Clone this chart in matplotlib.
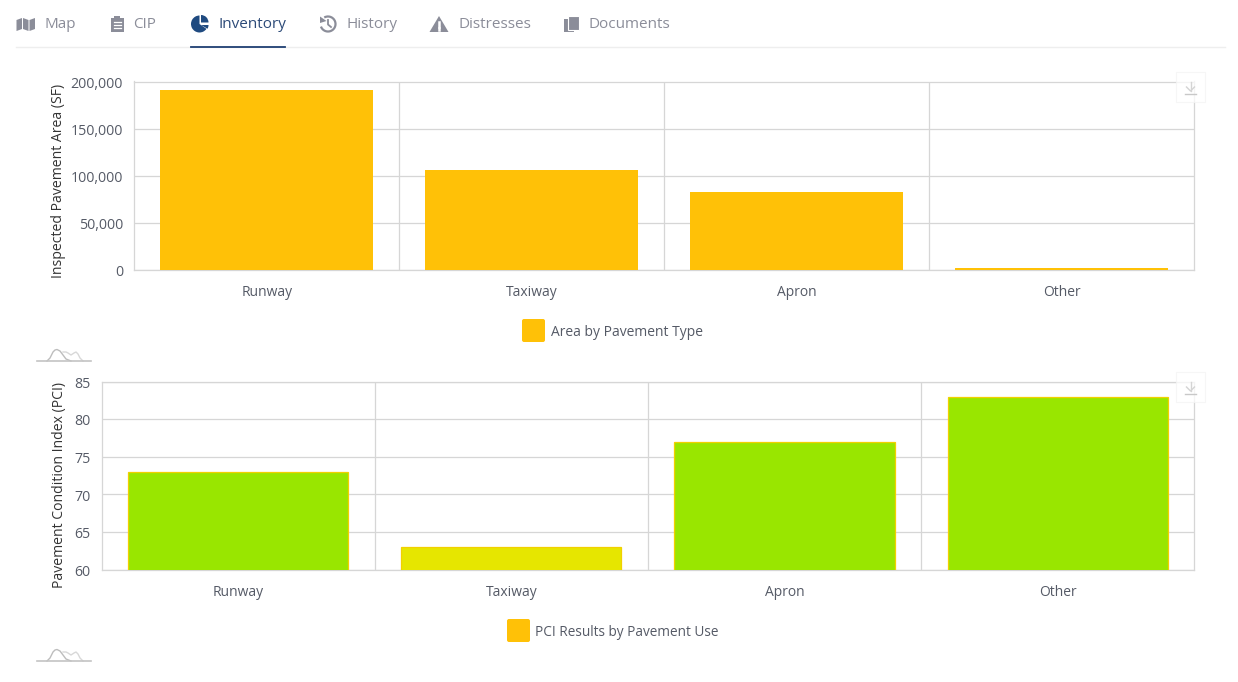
import matplotlib
matplotlib.use('Agg')
from matplotlib import pyplot as plt
from matplotlib.patches import FancyBboxPatch, Polygon, Rectangle, Wedge, Arc
from matplotlib.transforms import ScaledTranslation

plt.rcParams['font.family'] = ['Open Sans', 'DejaVu Sans']

W, H = 1238, 682

# data
area_types = ['Runway', 'Taxiway', 'Apron', 'Other']
area_values = [191000, 106000, 82000, 2000]
area_ticks = [0, 50000, 100000, 150000, 200000]

pci_types = ['Runway', 'Taxiway', 'Apron', 'Other']
pci_values = [73, 63, 77, 83]
pci_colors = ['#99E600', '#E6E600', '#99E600', '#99E600']
pci_ticks = [60, 65, 70, 75, 80, 85]

tabs = ['Map', 'CIP', 'Inventory', 'History', 'Distresses', 'Documents']
tab_x = [44, 133, 219, 346, 458, 589]

GRID = '#d6d6d6'
TEXT = '#555a66'
AMBER = '#FFC107'


def px_axes(fig, left, top, right, bottom):
    return fig.add_axes([left / W, 1 - bottom / H, (right - left) / W, (bottom - top) / H])


def bar_chart(fig, box, cats, vals, colors, ticks, ylab, ylab_y, edge=None):
    ax = px_axes(fig, *box)
    xs = range(len(cats))
    ax.bar(xs, vals, width=0.806, color=colors, edgecolor=edge, linewidth=0.9 if edge else 0, zorder=3)
    ax.set_xlim(-0.5, len(cats) - 0.5)
    ax.set_ylim(ticks[0], ticks[-1])
    ax.set_yticks(ticks)
    ax.set_yticklabels(['{:,}'.format(t) for t in ticks], fontsize=10.2, color=TEXT)
    ax.set_xticks(list(xs))
    ax.set_xticklabels(cats, fontsize=10, color=TEXT)
    ax.set_xticks([i + 0.5 for i in xs][:-1], minor=True)
    ax.tick_params(axis='both', which='both', length=0)
    ax.tick_params(axis='x', pad=11)
    ax.tick_params(axis='y', pad=8)
    nudge = ScaledTranslation(0, -0.008, fig.dpi_scale_trans)
    for lab in ax.get_yticklabels():
        lab.set_transform(lab.get_transform() + nudge)
    ax.grid(True, axis='y', color=GRID, linewidth=0.9, zorder=0)
    ax.grid(True, axis='x', which='minor', color=GRID, linewidth=0.9, zorder=0)
    for s in ax.spines.values():
        s.set_color(GRID)
        s.set_linewidth(0.9)
    fig.text(59 / W, 1 - ylab_y / H, ylab, rotation=90, ha='center', va='center',
             fontsize=10.1, color='#333333')
    return ax


fig = plt.figure(figsize=(W / 100, H / 100), dpi=100, facecolor='white')

bar_chart(fig, (134.2, 81.5, 1194.2, 269.5), area_types, area_values, AMBER, area_ticks,
          'Inspected Pavement Area (SF)', 180.5)
bar_chart(fig, (101.7, 381.5, 1194.2, 569.5), pci_types, pci_values, pci_colors, pci_ticks,
          'Pavement Condition Index (PCI)', 485, edge='#F2D000')

# overlay in pixel coordinates for tabs, legends, toolbox icons
ov = fig.add_axes([0, 0, 1, 1], zorder=10)
ov.set_xlim(0, W)
ov.set_ylim(H, 0)
ov.axis('off')
ov.patch.set_alpha(0)

for name, x in zip(tabs, tab_x):
    active = name == 'Inventory'
    ov.text(x, 25, name, fontsize=11, va='center', ha='left', color='#2c4a78' if active else '#8b8d99')
ov.plot([16, 1225], [46.5, 46.5], color='#eeeeee', lw=1)
ov.plot([191, 285], [46.5, 46.5], color='#1f3f72', lw=1.3)

ICON = '#8b8d99'
# map
ov.add_patch(Polygon([(16.5, 20), (22, 18), (22, 29), (16.5, 31)], color=ICON, lw=0))
ov.add_patch(Polygon([(23, 18), (28.5, 20), (28.5, 31), (23, 29)], color=ICON, lw=0))
ov.add_patch(Polygon([(29.5, 20), (35, 18), (35, 29), (29.5, 31)], color=ICON, lw=0))
# clipboard
ov.add_patch(Rectangle((110.5, 18), 13, 14, color=ICON, lw=0))
ov.add_patch(Rectangle((114, 16), 6, 3, color=ICON, lw=0))
for y in (22, 25, 28):
    ov.plot([113.5, 120.5], [y, y], color='white', lw=0.9)
# pie, angles run clockwise because the overlay y axis points down
ov.add_patch(Wedge((199.5, 24), 8.5, 35, 270, color='#1f4a80', lw=0))
ov.add_patch(Wedge((201, 22.5), 7.5, 270, 360, color='#1f4a80', lw=0))
ov.add_patch(Wedge((201, 25), 7.5, 0, 30, color='#1f4a80', lw=0))
# history
ov.add_patch(Arc((328, 24), 15, 15, theta1=240, theta2=520, color=ICON, lw=1.6))
ov.add_patch(Polygon([(320, 16.5), (326.5, 21), (320, 23)], color=ICON, lw=0))
ov.plot([328, 328, 331], [20, 24.5, 27], color=ICON, lw=1.3)
# warning
ov.add_patch(Polygon([(439, 16), (448.5, 32), (429.5, 32)], color=ICON, lw=0))
ov.plot([439, 439], [21.5, 26.5], color='white', lw=1.8)
ov.plot([439, 439], [28, 30], color='white', lw=1.8)
# documents
ov.add_patch(Rectangle((564, 19), 10, 13, color=ICON, lw=0))
ov.add_patch(Rectangle((568, 15.5), 11, 14, fc=ICON, ec='white', lw=0.8))

# legends
for lx, ly, tx, label, fs in [(522, 319, 551, 'Area by Pavement Type', 10),
                              (507, 619, 535, 'PCI Results by Pavement Use', 9.85)]:
    ov.add_patch(FancyBboxPatch((lx + 2, ly + 2), 19, 19, boxstyle='round,pad=2', color=AMBER, lw=0))
    ov.text(tx, ly + 13.5, label, fontsize=fs, va='center', ha='left', color=TEXT)

# toolbox download icons
for y0 in (72, 372):
    ov.add_patch(Rectangle((1176, y0), 29, 30, fc='white', ec='#f3f3f3', lw=0.8, alpha=0.75))
    ov.plot([1190.5, 1190.5], [y0 + 10, y0 + 19], color='#d4d4d4', lw=1)
    ov.plot([1186.5, 1190.5, 1194.5], [y0 + 15, y0 + 19, y0 + 15], color='#d4d4d4', lw=1)
    ov.plot([1185, 1196], [y0 + 21.5, y0 + 21.5], color='#c8c8c8', lw=1)

# data zoom icons under each chart
hill_a_x = [47, 50, 53, 55, 57, 60, 63, 66, 71]
hill_a_y = [361, 358, 352, 350, 349.5, 351, 355, 359, 361]
hill_b_x = [63, 66, 68, 71, 74, 76, 78, 80, 83]
hill_b_y = [352, 352, 353, 355, 353, 352, 354, 358, 361]
for dy in (0, 300):
    ov.plot(hill_a_x, [y + dy for y in hill_a_y], color='#bdbdbd', lw=1)
    ov.plot(hill_b_x, [y + dy for y in hill_b_y], color='#d8d8d8', lw=1)
    ov.plot([37, 91], [361 + dy, 361 + dy], color='#c4c4c4', lw=1.2)

fig.savefig('out.png', dpi=100)
